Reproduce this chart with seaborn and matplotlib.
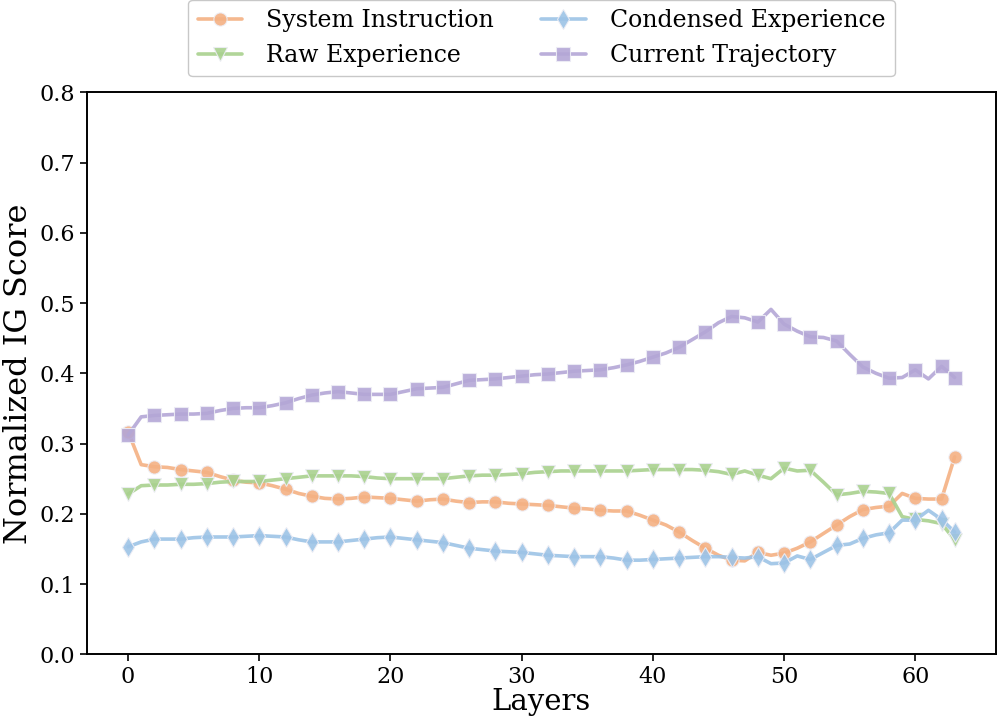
#!/usr/bin/env python3

import numpy as np
import pandas as pd
import matplotlib
matplotlib.use("Agg")
import matplotlib.pyplot as plt
import seaborn as sns

# -----------------------------------------------------------------------------
# Data
# -----------------------------------------------------------------------------

layers = list(range(64))

system_instruction = [
    0.317, 0.270, 0.267, 0.266, 0.263, 0.261, 0.259, 0.253, 0.248, 0.245,
    0.244, 0.240, 0.235, 0.229, 0.225, 0.222, 0.221, 0.222, 0.224, 0.223,
    0.222, 0.220, 0.218, 0.220, 0.221, 0.218, 0.216, 0.217, 0.217, 0.215,
    0.214, 0.213, 0.212, 0.210, 0.208, 0.207, 0.205, 0.204, 0.204, 0.198,
    0.191, 0.184, 0.174, 0.162, 0.151, 0.141, 0.134, 0.133, 0.145, 0.141,
    0.144, 0.151, 0.160, 0.172, 0.184, 0.196, 0.206, 0.209, 0.211, 0.229,
    0.222, 0.221, 0.221, 0.281,
]

raw_experience = [
    0.228, 0.240, 0.241, 0.241, 0.242, 0.242, 0.243, 0.245, 0.246, 0.246,
    0.246, 0.248, 0.250, 0.252, 0.254, 0.254, 0.254, 0.254, 0.253, 0.251,
    0.250, 0.250, 0.250, 0.250, 0.250, 0.252, 0.254, 0.255, 0.255, 0.256,
    0.257, 0.259, 0.260, 0.261, 0.261, 0.261, 0.261, 0.261, 0.261, 0.262,
    0.263, 0.263, 0.263, 0.263, 0.262, 0.260, 0.256, 0.261, 0.255, 0.250,
    0.265, 0.261, 0.262, 0.245, 0.227, 0.229, 0.232, 0.231, 0.229, 0.196,
    0.192, 0.190, 0.186, 0.163,
]

condensed_experience = [
    0.153, 0.160, 0.164, 0.164, 0.164, 0.166, 0.167, 0.167, 0.167, 0.168,
    0.169, 0.168, 0.167, 0.163, 0.160, 0.160, 0.160, 0.162, 0.164, 0.166,
    0.167, 0.165, 0.163, 0.161, 0.159, 0.155, 0.151, 0.149, 0.147, 0.146,
    0.145, 0.143, 0.141, 0.140, 0.139, 0.139, 0.139, 0.137, 0.134, 0.134,
    0.135, 0.136, 0.137, 0.138, 0.139, 0.139, 0.138, 0.137, 0.139, 0.129,
    0.130, 0.140, 0.135, 0.145, 0.155, 0.157, 0.165, 0.170, 0.173, 0.191,
    0.191, 0.205, 0.192, 0.174,
]

current_trajectory = [
    0.312, 0.338, 0.340, 0.341, 0.342, 0.342, 0.343, 0.347, 0.350, 0.351,
    0.351, 0.354, 0.358, 0.364, 0.369, 0.372, 0.374, 0.372, 0.370, 0.370,
    0.370, 0.374, 0.378, 0.379, 0.380, 0.385, 0.390, 0.391, 0.392, 0.394,
    0.396, 0.398, 0.399, 0.401, 0.403, 0.404, 0.405, 0.408, 0.412, 0.417,
    0.423, 0.429, 0.437, 0.448, 0.459, 0.472, 0.481, 0.479, 0.473, 0.491,
    0.470, 0.460, 0.452, 0.451, 0.446, 0.427, 0.409, 0.400, 0.393, 0.394,
    0.405, 0.392, 0.410, 0.394,
]

series_names = ["System Instruction", "Raw Experience",
                "Condensed Experience", "Current Trajectory"]
series_values = [system_instruction, raw_experience,
                 condensed_experience, current_trajectory]
colors = ["#F4B183", "#A9D18E", "#9DC3E6", "#B4A7D6"]
markers = ["o", "v", "d", "s"]

df = pd.DataFrame({"Layers": layers})
for name, vals in zip(series_names, series_values):
    df[name] = vals

# -----------------------------------------------------------------------------
# Plot
# -----------------------------------------------------------------------------

sns.set_style("ticks")
plt.rcParams["font.family"] = ["DejaVu Serif"]
plt.rcParams.update({
    "text.color": "black",
    "axes.labelcolor": "black",
    "xtick.color": "black",
    "ytick.color": "black",
})

fig, ax = plt.subplots(figsize=(9.97, 7.27), dpi=100)
fig.subplots_adjust(left=0.087, right=0.999, bottom=0.100, top=0.873)

mark_idx = list(range(0, 64, 2)) + [63]

for name, color, marker in zip(series_names, colors, markers):
    sns.lineplot(
        data=df, x="Layers", y=name, ax=ax,
        color=color, marker=marker, markevery=mark_idx,
        markersize=9.5 if marker != "d" else 10.5,
        linewidth=2.6, alpha=0.9,
        markeredgecolor="#EDEDF5", markeredgewidth=0.8,
        label=name,
    )

ax.set_ylim(0.0, 0.8)
ax.set_yticks(np.arange(0.0, 0.81, 0.1))
ax.set_xticks([0, 10, 20, 30, 40, 50, 60])
ax.set_xlabel("Layers", fontsize=21, labelpad=0)
ax.set_ylabel("Normalized IG Score", fontsize=23, labelpad=4)
ax.tick_params(labelsize=16, length=5, width=1.2)
for spine in ax.spines.values():
    spine.set_linewidth(1.4)
    spine.set_color("black")

ax.legend(
    loc="lower center", bbox_to_anchor=(0.5, 1.02), ncol=2,
    fontsize=17, frameon=True, edgecolor="#bbbbbb",
    columnspacing=2.0, handlelength=1.9, handletextpad=1.0,
    borderaxespad=0.2,
)

plt.savefig("out.png", dpi=100)
plt.close()
